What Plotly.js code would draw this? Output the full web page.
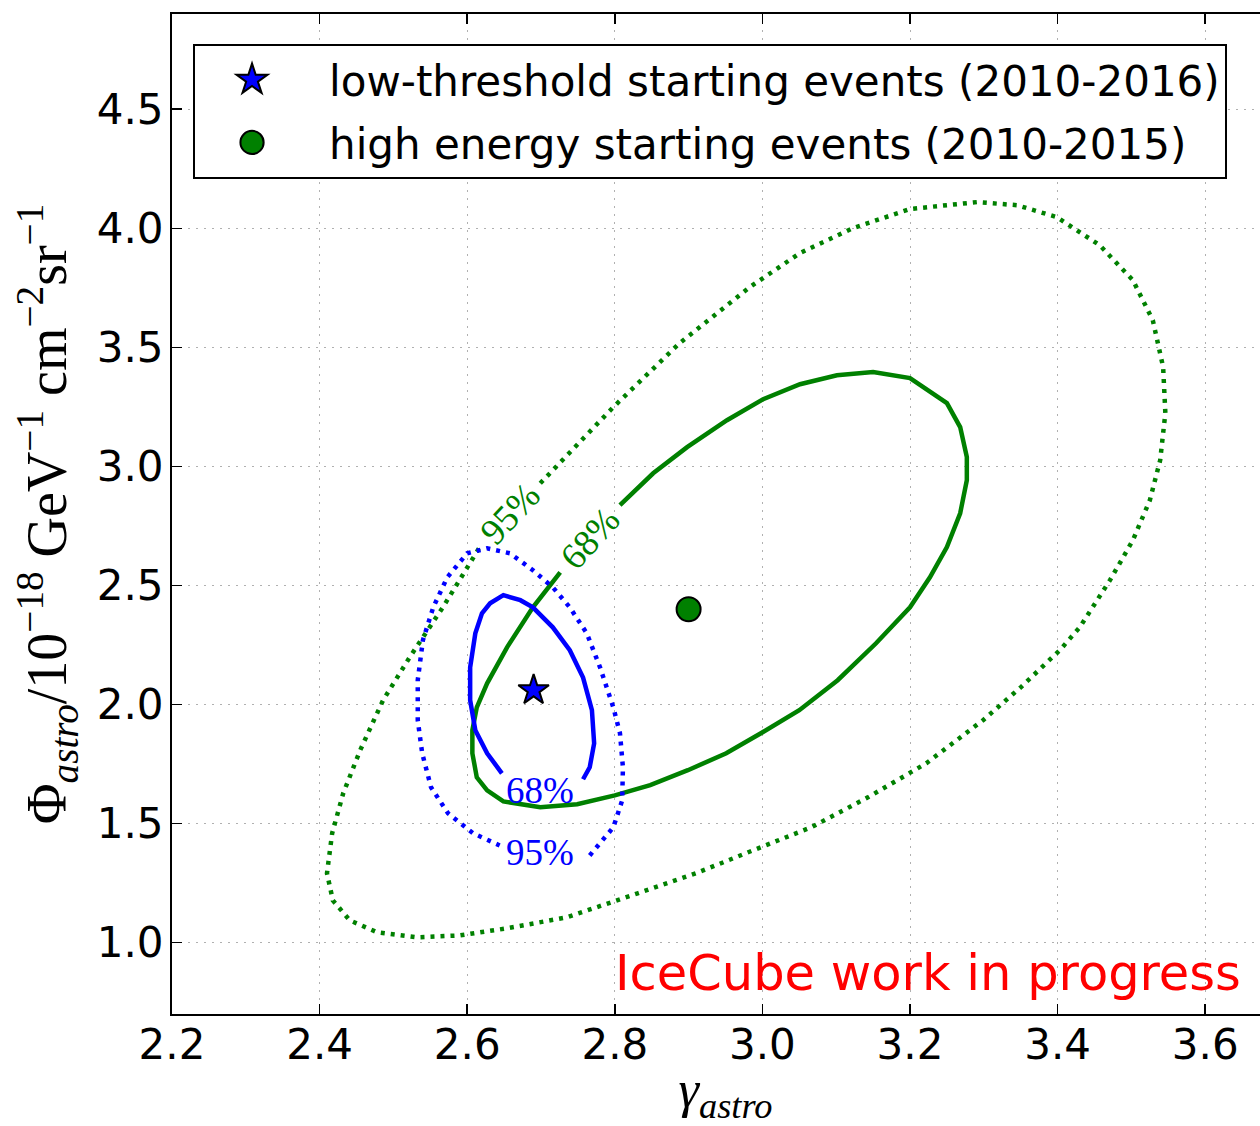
<!DOCTYPE html>
<html>
<head>
<meta charset="utf-8">
<script src="https://cdn.plot.ly/plotly-3.0.1.min.js"></script>
<style>
html,body{margin:0;padding:0;background:#fff;overflow:hidden;}
#chart{width:1300px;height:1126px;}
</style>
</head>
<body>
<div id="chart"></div>
<script>
// ---- data (gamma_astro, Phi_astro) ----
const green95Gamma = [2.699,2.798,2.888,2.983,3.051,3.123,3.200,3.291,3.345,3.399,3.457,3.502,3.529,3.543,3.546,3.539,3.525,3.502,3.471,3.430,3.403,3.350,3.299,3.222,3.143,3.066,2.987,2.910,2.831,2.735,2.654,2.590,2.532,2.478,2.441,2.418,2.410,2.417,2.432,2.455,2.486,2.522,2.567,2.617];
const green95Phi   = [2.929,3.249,3.518,3.753,3.896,4.001,4.081,4.110,4.097,4.047,3.929,3.782,3.614,3.417,3.224,3.026,2.858,2.690,2.522,2.324,2.228,2.072,1.934,1.753,1.610,1.484,1.387,1.291,1.207,1.106,1.060,1.030,1.022,1.043,1.093,1.177,1.291,1.459,1.627,1.808,2.018,2.198,2.408,2.661];

const green68Gamma = [2.807,2.852,2.898,2.952,3.001,3.051,3.101,3.150,3.200,3.250,3.268,3.277,3.277,3.268,3.250,3.227,3.200,3.154,3.102,3.050,2.998,2.951,2.899,2.848,2.800,2.749,2.699,2.649,2.627,2.613,2.607,2.607,2.613,2.627,2.654,2.689,2.726];
const green68Phi   = [2.837,2.971,3.081,3.194,3.282,3.345,3.383,3.396,3.371,3.266,3.165,3.039,2.942,2.803,2.661,2.534,2.408,2.257,2.102,1.976,1.879,1.795,1.724,1.661,1.618,1.581,1.568,1.593,1.639,1.694,1.795,1.892,1.988,2.089,2.240,2.408,2.555];

const blue68Gamma = [2.647,2.627,2.611,2.604,2.604,2.611,2.620,2.631,2.649,2.672,2.689,2.716,2.739,2.757,2.769,2.772,2.766,2.757];
const blue68Phi   = [1.711,1.795,1.892,2.018,2.156,2.299,2.383,2.425,2.459,2.438,2.408,2.324,2.228,2.113,1.976,1.837,1.736,1.686];

const blue95Gamma = [2.766,2.798,2.810,2.811,2.807,2.798,2.780,2.762,2.739,2.716,2.689,2.658,2.627,2.600,2.573,2.554,2.540,2.533,2.533,2.539,2.551,2.574,2.608,2.644];
const blue95Phi   = [1.366,1.484,1.597,1.736,1.879,1.988,2.156,2.299,2.408,2.492,2.564,2.635,2.656,2.635,2.534,2.408,2.270,2.102,1.934,1.795,1.652,1.543,1.459,1.408];

const bestFitNames = ["low-threshold starting events (2010-2016)", "high energy starting events (2010-2015)"];
const bestFitGamma = [2.69, 2.90];
const bestFitPhi   = [2.06, 2.40];

const contourLabels = ["95%", "68%", "68%", "95%"];
const contourLabelGamma = [2.658, 2.766, 2.699, 2.699];
const contourLabelPhi   = [2.803, 2.698, 1.640, 1.379];
const contourLabelAngle = [-47, -48, 0, 0];
const contourLabelColor = ["green", "green", "#0000ff", "#0000ff"];

const xTickVals = [2.2,2.4,2.6,2.8,3.0,3.2,3.4,3.6];
const yTickVals = [1.0,1.5,2.0,2.5,3.0,3.5,4.0,4.5];

// ---- traces ----
const GREEN = "green", BLUE = "#0000ff";
const dotted = "4px,6px";
const traces = [
  {x: green95Gamma, y: green95Phi, mode: "lines", line: {color: GREEN, width: 4.5, dash: dotted}, showlegend: false, hoverinfo: "skip"},
  {x: green68Gamma, y: green68Phi, mode: "lines", line: {color: GREEN, width: 4.5}, showlegend: false, hoverinfo: "skip"},
  {x: blue95Gamma, y: blue95Phi, mode: "lines", line: {color: BLUE, width: 4.5, dash: dotted}, showlegend: false, hoverinfo: "skip"},
  {x: blue68Gamma, y: blue68Phi, mode: "lines", line: {color: BLUE, width: 4.5}, showlegend: false, hoverinfo: "skip"},
  {x: [bestFitGamma[0]], y: [bestFitPhi[0]], name: bestFitNames[0], mode: "markers", legendgroup: "a",
   marker: {symbol: "star", size: 23, color: BLUE, line: {color: "black", width: 2}}},
  {x: [bestFitGamma[1]], y: [bestFitPhi[1]], name: bestFitNames[1], mode: "markers", legendgroup: "b",
   marker: {symbol: "circle", size: 24, color: GREEN, line: {color: "black", width: 2}}}
];

const annotations = contourLabels.map((t, i) => ({
  x: contourLabelGamma[i], y: contourLabelPhi[i], xref: "x", yref: "y",
  text: t, showarrow: false, textangle: contourLabelAngle[i],
  font: {family: "Liberation Serif, DejaVu Serif, serif", size: 37, color: contourLabelColor[i]}
}));
annotations.push({
  x: 0.9675, y: 0.041, xref: "paper", yref: "paper", xanchor: "right", yanchor: "middle",
  text: "IceCube work in progress", showarrow: false,
  font: {family: "DejaVu Sans, sans-serif", size: 49.5, color: "red"}
});

const axisCommon = {
  showline: true, linecolor: "black", linewidth: 2, mirror: "ticks",
  ticks: "inside", ticklen: 10, tickwidth: 1.5, tickcolor: "black",
  showgrid: true, gridcolor: "#b0b0b0", gridwidth: 1, griddash: "2px,6px",
  zeroline: false, tickformat: ".1f",
  tickfont: {family: "DejaVu Sans, sans-serif", size: 42, color: "black"}
};

const layout = {
  width: 1300, height: 1126,
  margin: {l: 172, r: 21, t: 14, b: 112},
  paper_bgcolor: "white", plot_bgcolor: "white",
  showlegend: true,
  legend: {
    x: 0.019, y: 0.97, xanchor: "left", yanchor: "top",
    bgcolor: "white", bordercolor: "black", borderwidth: 2,
    font: {family: "DejaVu Sans, sans-serif", size: 42, color: "black"},
    itemwidth: 124, tracegroupgap: 5
  },
  xaxis: Object.assign({}, axisCommon, {
    range: [2.2, 3.7], tickvals: xTickVals, ticklabelstandoff: -7,
    title: {text: "<i>γ</i><sub><i>astro</i></sub>", standoff: 22,
            font: {family: "Liberation Serif, DejaVu Serif, serif", size: 52, color: "black"}}
  }),
  yaxis: Object.assign({}, axisCommon, {
    range: [0.7, 4.9], tickvals: yTickVals, ticklabelstandoff: -2,
    title: {text: "Φ<sub><i>astro</i></sub>/10<sup>−18</sup> GeV<sup>−1</sup> cm<sup>−2</sup>sr<sup>−1</sup>", standoff: 12,
            font: {family: "Liberation Serif, DejaVu Serif, serif", size: 56, color: "black"}}
  }),
  annotations: annotations
};

Plotly.newPlot("chart", traces, layout, {staticPlot: true, displayModeBar: false}).then(function(gd){
  // enlarge legend symbols to match the plotted marker size
  gd.querySelectorAll(".legend .legendpoints path.scatterpts").forEach(function(p){
    var t = p.getAttribute("transform") || "";
    p.setAttribute("transform", "translate(-10,0) " + t + " scale(1.45)");
    p.style.strokeWidth = "1.4px";
  });
});
</script>
</body>
</html>
